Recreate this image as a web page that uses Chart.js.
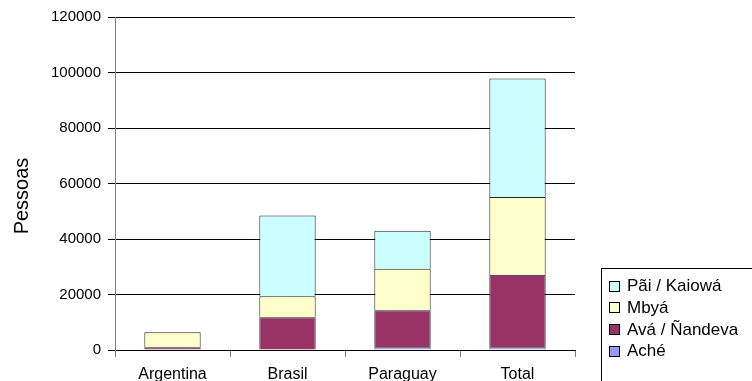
<!DOCTYPE html>
<html>
<head>
<meta charset="utf-8">
<script src="https://cdn.jsdelivr.net/npm/chart.js@4/dist/chart.umd.min.js"></script>
<style>
  html, body { margin: 0; padding: 0; background: #fff; overflow: hidden; }
  #wrap { width: 752px; height: 381px; }
</style>
</head>
<body>
<div id="wrap"><canvas id="c" width="752" height="381"></canvas></div>
<script>
const categories = ['Argentina', 'Brasil', 'Paraguay', 'Total'];
const seriesNames = ['Aché', 'Avá / Ñandeva', 'Mbyá', 'Pãi / Kaiowá'];
const ache   = [0, 0, 1000, 1000];
const ava    = [1000, 11800, 13300, 26100];
const mbya   = [5400, 7600, 15000, 28000];
const kaiowa = [0, 29100, 13650, 42750];
const yTicks = [0, 20000, 40000, 60000, 80000, 100000, 120000];
const yTitle = 'Pessoas';

const colors = ['#9999FF', '#993366', '#FFFFCC', '#CCFFFF'];
const values = [ache, ava, mbya, kaiowa];

const FONT = "'Liberation Sans', Arial, sans-serif";

const customDraw = {
  id: 'customDraw',
  afterDraw(chart) {
    const ctx = chart.ctx;
    // y axis title
    ctx.save();
    ctx.fillStyle = '#000';
    ctx.font = '20px ' + FONT;
    ctx.textAlign = 'center';
    ctx.textBaseline = 'middle';
    ctx.translate(22, 196);
    ctx.rotate(-Math.PI / 2);
    ctx.fillText(yTitle, 0, 0);
    ctx.restore();

    // legend box: only left and top edges fall inside the picture
    ctx.save();
    ctx.fillStyle = '#000';
    ctx.fillRect(601, 268, 151, 1);
    ctx.fillRect(601, 268, 1, 113);
    const ds = chart.data.datasets;
    ctx.font = '17px ' + FONT;
    ctx.textAlign = 'left';
    ctx.textBaseline = 'middle';
    let k = 0;
    for (let i = ds.length - 1; i >= 0; i--) {
      const yc = 285.5 + k * 21.7;
      ctx.fillStyle = ds[i].backgroundColor;
      ctx.fillRect(609.5, Math.round(yc - 5) + 0.5, 10, 10);
      ctx.strokeStyle = '#000';
      ctx.lineWidth = 1;
      ctx.strokeRect(609.5, Math.round(yc - 5) + 0.5, 10, 10);
      ctx.fillStyle = '#000';
      ctx.fillText(ds[i].label, 627, yc + 1);
      k++;
    }
    ctx.restore();
  }
};

new Chart(document.getElementById('c'), {
  type: 'bar',
  data: {
    labels: categories,
    datasets: seriesNames.map((name, i) => ({
      label: name,
      data: values[i],
      backgroundColor: colors[i],
      borderColor: '#222',
      borderWidth: { top: 1, left: 1, right: 1, bottom: 0 },
      borderSkipped: false,
      barPercentage: 0.49,
      categoryPercentage: 1.0
    }))
  },
  options: {
    responsive: false,
    animation: false,
    layout: { padding: { left: 0, right: 177, top: 17, bottom: 0 } },
    plugins: {
      legend: { display: false },
      tooltip: { enabled: false }
    },
    scales: {
      x: {
        stacked: true,
        grid: {
          offset: true,
          drawOnChartArea: false,
          drawTicks: true,
          tickLength: 7,
          color: '#808080',
          tickColor: '#808080'
        },
        border: { display: true, color: '#000', width: 1 },
        ticks: {
          color: '#000',
          font: { family: FONT, size: 16 },
          padding: 8,
          maxRotation: 0
        },
        afterFit(scale) { scale.height = 31; }
      },
      y: {
        stacked: true,
        min: 0,
        max: 120000,
        afterBuildTicks(scale) { scale.ticks = yTicks.map(v => ({ value: v })); },
        grid: {
          color: '#000',
          tickColor: '#000',
          tickLength: 7,
          drawTicks: true
        },
        border: { display: true, color: '#808080', width: 1 },
        ticks: {
          color: '#000',
          font: { family: FONT, size: 15 },
          padding: 7,
          callback: v => String(v)
        },
        afterFit(scale) { scale.width = 115; }
      }
    }
  },
  plugins: [customDraw]
});
</script>
</body>
</html>
